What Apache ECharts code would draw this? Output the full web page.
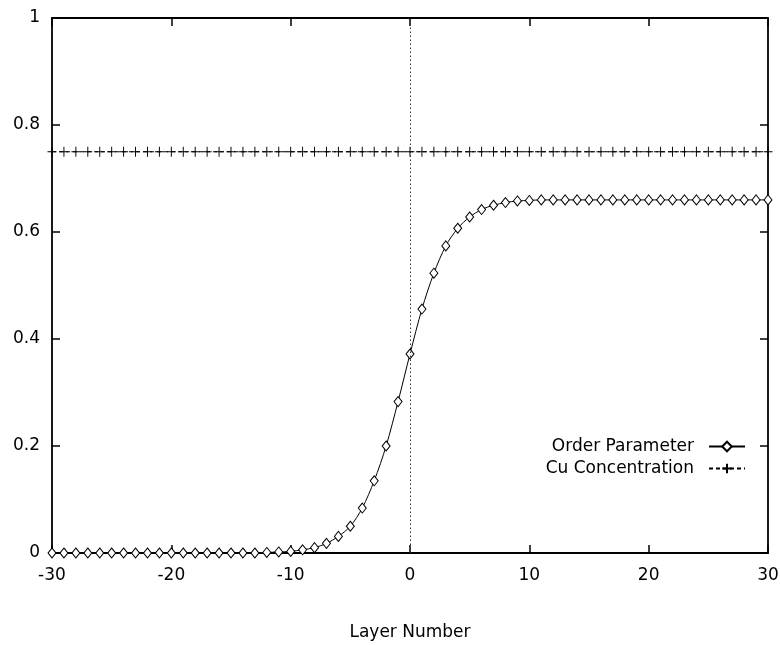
<!DOCTYPE html>
<html>
<head>
<meta charset="utf-8">
<script src="https://cdn.jsdelivr.net/npm/echarts@6/dist/echarts.min.js"></script>
<style>html,body{margin:0;padding:0;background:#fff}#c{width:780px;height:645px}</style>
</head>
<body>
<div id="c"></div>
<script>
var layers = [];
for (var i = -30; i <= 30; i++) layers.push(i);
var orderParam = [
  0,0,0,0,0,0,0,0,0,0,
  0,0,0,0,0,0,0,0,0.001,0.002,
  0.003,0.006,0.010,0.018,0.031,0.050,0.084,0.135,0.200,0.283,
  0.372,
  0.456,0.523,0.574,0.607,0.628,0.642,0.650,0.655,0.658,0.659,
  0.660,0.660,0.660,0.660,0.660,0.660,0.660,0.660,0.660,0.660,
  0.660,0.660,0.660,0.660,0.660,0.660,0.660,0.660,0.660,0.660
];
var cuConc = [
  0.75,0.75,0.75,0.75,0.75,0.75,0.75,0.75,0.75,0.75,
  0.75,0.75,0.75,0.75,0.75,0.75,0.75,0.75,0.75,0.75,
  0.75,0.75,0.75,0.75,0.75,0.75,0.75,0.75,0.75,0.75,
  0.75,
  0.75,0.75,0.75,0.75,0.75,0.75,0.75,0.75,0.75,0.75,
  0.75,0.75,0.75,0.75,0.75,0.75,0.75,0.75,0.75,0.75,
  0.75,0.75,0.75,0.75,0.75,0.75,0.75,0.75,0.75,0.75
];
var seriesNames = ['Order Parameter', 'Cu Concentration'];
var xTitle = 'Layer Number';

function pairs(xs, ys){ return xs.map(function(x,k){ return [x, ys[k]]; }); }

var FONT = 'DejaVu Sans';
var FS = 17;
var chart = echarts.init(document.getElementById('c'), null, {renderer:'canvas'});
var axisLine = {show:true, onZero:false, lineStyle:{color:'#000', width:1.8}};
var tick = {show:true, inside:true, length:8, lineStyle:{color:'#000', width:1.5}};
chart.setOption({
  backgroundColor:'#fff',
  animation:false,
  grid:{left:52, right:12, top:18, bottom:92, containLabel:false, outerBoundsMode:'none'},
  legend:{
    data:seriesNames,
    orient:'vertical',
    align:'right',
    right:29,
    top:433,
    itemWidth:36,
    itemHeight:12,
    itemGap:5,
    textStyle:{fontFamily:FONT, fontSize:FS, color:'#000', padding:[0,10,0,0]}
  },
  xAxis:[{
    type:'value', min:-30, max:30, interval:10,
    axisLine:axisLine, axisTick:tick, splitLine:{show:false},
    axisLabel:{fontFamily:FONT, fontSize:FS, color:'#000', margin:14},
    name:xTitle, nameLocation:'middle', nameGap:71,
    nameTextStyle:{fontFamily:FONT, fontSize:FS, color:'#000'}
  },{
    type:'value', position:'top', min:-30, max:30, interval:10,
    axisLine:axisLine, axisTick:tick, splitLine:{show:false}, axisLabel:{show:false}
  }],
  yAxis:[{
    type:'value', min:0, max:1, interval:0.2,
    axisLine:axisLine, axisTick:tick, splitLine:{show:false},
    axisLabel:{fontFamily:FONT, fontSize:FS, color:'#000', margin:12}
  },{
    type:'value', position:'right', min:0, max:1, interval:0.2,
    axisLine:axisLine, axisTick:tick, splitLine:{show:false}, axisLabel:{show:false}
  }],
  series:[{
    name:seriesNames[0], type:'line', smooth:0.3,
    data:pairs(layers, orderParam),
    symbol:'diamond', symbolSize:[8,10], showAllSymbol:true,
    itemStyle:{color:'#fff', borderColor:'#000', borderWidth:1},
    lineStyle:{color:'#000', width:1},
    z:3,
    markLine:{
      silent:true, symbol:'none', label:{show:false},
      lineStyle:{color:'#333', type:[1.5,2.5], width:1},
      data:[{xAxis:0}]
    }
  },{
    name:seriesNames[1], type:'line',
    data:pairs(layers, cuConc),
    symbol:'path://M0,5L10,5M5,0L5,10', symbolSize:[9,10], showAllSymbol:true,
    itemStyle:{color:'none', borderColor:'#000', borderWidth:1},
    lineStyle:{color:'#000', width:1, type:[4,3]},
    z:2
  }]
});
</script>
</body>
</html>
